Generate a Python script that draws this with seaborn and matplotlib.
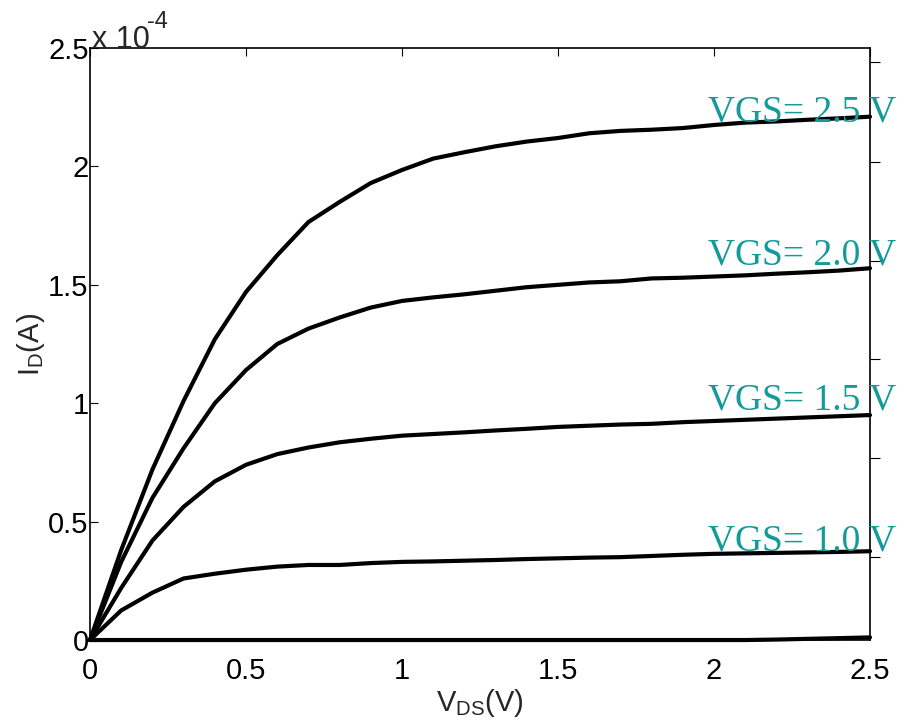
"""Output characteristics of an NMOS: I_D versus V_DS for several V_GS."""
import pandas as pd
import seaborn as sns
import matplotlib.pyplot as plt

# drain-source voltage sweep (V)
vds = [0.0, 0.1, 0.2, 0.3, 0.4, 0.5, 0.6, 0.7, 0.8, 0.9, 1.0, 1.1, 1.2,
       1.3, 1.4, 1.5, 1.6, 1.7, 1.8, 1.9, 2.0, 2.1, 2.2, 2.3, 2.4, 2.5]

# drain current, in units of 1e-4 A
id_vgs25 = [0, 0.38, 0.72, 1.01, 1.27, 1.47, 1.625, 1.765, 1.85, 1.93, 1.985,
            2.033, 2.06, 2.085, 2.105, 2.12, 2.14, 2.15, 2.155, 2.162, 2.175,
            2.185, 2.19, 2.197, 2.203, 2.21]
id_vgs20 = [0, 0.33, 0.60, 0.81, 1.00, 1.14, 1.25, 1.315, 1.362, 1.404, 1.432,
            1.447, 1.46, 1.475, 1.49, 1.50, 1.51, 1.515, 1.527, 1.53, 1.535,
            1.54, 1.547, 1.553, 1.56, 1.57]
id_vgs15 = [0, 0.22, 0.42, 0.5625, 0.67, 0.74, 0.785, 0.813, 0.835, 0.85, 0.863,
            0.87, 0.877, 0.885, 0.892, 0.90, 0.905, 0.91, 0.913, 0.92, 0.925,
            0.93, 0.935, 0.94, 0.945, 0.95]
id_vgs10 = [0, 0.125, 0.20, 0.26, 0.28, 0.297, 0.31, 0.317, 0.317, 0.325, 0.33,
            0.332, 0.335, 0.338, 0.342, 0.345, 0.348, 0.35, 0.355, 0.36, 0.364,
            0.366, 0.368, 0.37, 0.372, 0.375]
id_vgs05 = [0, 0, 0, 0, 0, 0, 0, 0, 0, 0, 0, 0, 0, 0, 0, 0, 0, 0, 0, 0, 0,
            0, 0.002, 0.005, 0.008, 0.011]

curves = [id_vgs05, id_vgs10, id_vgs15, id_vgs20, id_vgs25]

# curve labels and where they sit (V_DS, I_D baseline)
labels = ['VGS= 1.0 V', 'VGS= 1.5 V', 'VGS= 2.0 V', 'VGS= 2.5 V']
label_x = [1.98, 1.98, 1.98, 1.98]
label_y = [0.38, 0.974, 1.585, 2.19]

# stray ticks of the overlaid (label) axes on the right side
stray_ticks = [0.35, 0.769, 1.187, 1.60, 2.02, 2.44]

sns.set_style('white')
plt.rcParams['font.family'] = ['Liberation Sans', 'DejaVu Sans']
plt.rcParams['mathtext.fontset'] = 'custom'
plt.rcParams['mathtext.rm'] = 'Liberation Sans'
plt.rcParams['mathtext.it'] = 'Liberation Sans'

fig = plt.figure(figsize=(9.01, 7.21), dpi=100)
ax = fig.add_axes([0.0999, 0.1123, 0.8657, 0.8211])

for ids in curves:
    df = pd.DataFrame({'vds': vds, 'id': ids})
    sns.lineplot(data=df, x='vds', y='id', color='black', linewidth=3.0,
                 ax=ax, clip_on=False)

for txt, x, y in zip(labels, label_x, label_y):
    ax.text(x, y, txt, color='#139b99', fontsize=27, va='baseline', ha='left',
            family=['Liberation Serif', 'DejaVu Serif'], clip_on=False,
            zorder=5)

ax.set_xlim(0, 2.5)
ax.set_ylim(0, 2.5)
ax.set_xticks([0, 0.5, 1, 1.5, 2, 2.5])
ax.set_xticklabels(['0', '0.5', '1', '1.5', '2', '2.5'])
ax.set_yticks([0, 0.5, 1, 1.5, 2, 2.5])
ax.set_yticklabels(['0', '0.5', '1', '1.5', '2', '2.5'])

ax.tick_params(axis='both', direction='in', length=6, width=0.8,
               top=True, right=True, labelsize=21, colors='black')
ax.tick_params(axis='x', pad=12)
ax.tick_params(axis='y', pad=1)

for side in ['left', 'right', 'top', 'bottom']:
    ax.spines[side].set_visible(True)
    ax.spines[side].set_color('black')
    ax.spines[side].set_linewidth(1.2)

# overlaid axes that only shows a few short outward ticks on the right
ax2 = ax.twinx()
ax2.set_ylim(0, 2.5)
ax2.set_yticks(stray_ticks)
ax2.set_yticklabels([])
ax2.tick_params(axis='y', direction='out', length=7, width=0.8, right=True,
                left=False, colors='black')
for side in ['left', 'right', 'top', 'bottom']:
    ax2.spines[side].set_visible(False)

ax.set_xlabel(r'$\mathregular{V_{DS}(V)}$', fontsize=21, labelpad=2)
ax.set_ylabel(r'$\mathregular{I_D(A)}$', fontsize=21, labelpad=1)
ax.text(0.002, 1.0, 'x 10', transform=ax.transAxes,
        fontsize=22, ha='left', va='baseline')
ax.text(0.073, 1.034, '-4', transform=ax.transAxes,
        fontsize=17, ha='left', va='baseline')

fig.savefig('out.png', dpi=100)
